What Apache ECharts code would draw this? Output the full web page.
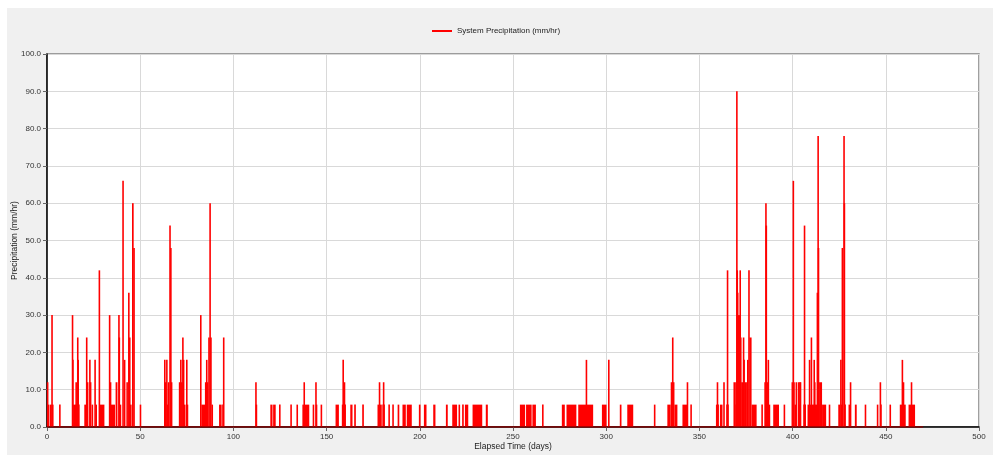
<!DOCTYPE html>
<html>
<head>
<meta charset="utf-8">
<script src="https://cdn.jsdelivr.net/npm/echarts@6/dist/echarts.min.js"></script>
<style>
  html, body { margin: 0; padding: 0; background: #ffffff; }
  #chart { position: absolute; left: 7px; top: 8px; width: 986px; height: 447px; background: #f0f0f0; }
</style>
</head>
<body>
<div id="chart"></div>
<script>
// Rainfall pulses: each one starts at rainStart (days), ends at rainEnd (days), intensity rainValue (mm/hr)
const rainStart = [
  0.1, 0.6, 1.6, 2.6, 6.5,
  13.6, 13.8, 14.0, 15.6, 16.4, 16.7, 16.8,
  20.0, 21.2, 21.7, 22.9, 23.3, 24.2, 25.7, 26.0, 28.0, 28.4,
  33.5, 34.0, 34.2, 36.8, 38.5, 38.7, 39.0, 40.7, 41.3, 42.9, 43.8, 44.3, 44.5, 45.6, 46.6, 50.0,
  63.1, 63.3, 64.2, 64.4, 65.0, 65.8, 66.2, 66.7,
  70.8, 71.5, 72.2, 72.8, 73.0, 73.6, 74.9, 75.1,
  82.4, 82.8, 85.0, 85.6, 86.0, 86.5, 87.4, 87.6, 88.3,
  92.3, 94.2, 94.7,
  112.0, 112.2, 119.8, 121.3, 124.7, 130.8, 134.1, 137.0, 137.9,
  142.8, 144.2, 144.4, 147.0, 154.8, 158.4, 158.8, 159.3,
  162.7, 164.8, 169.1, 177.3, 178.3, 180.2, 180.5,
  183.3, 185.4, 188.1, 190.7, 193.0, 199.5, 202.2,
  207.2, 214.0, 217.4, 220.8, 222.7, 224.2, 228.3, 235.4,
  253.7, 257.0, 260.4, 265.6,
  276.2, 278.7, 285.0, 289.3, 297.7, 301.3, 307.3, 311.3,
  325.8, 332.8, 334.6, 335.6, 340.9, 343.5, 345.2,
  359.0, 359.6, 361.0, 363.1, 364.6, 365.0, 368.6, 368.8,
  369.5, 370.0, 370.2, 370.4, 370.7, 371.8, 372.0, 372.4, 373.6, 373.8, 374.2, 375.6, 376.5, 376.8, 378.0,
  383.4, 385.0, 385.6, 385.8, 386.0, 386.9, 387.1, 389.6, 395.3,
  399.5, 400.3, 400.5, 401.0, 401.9, 403.1, 403.4, 403.8, 406.0, 406.3,
  408.0, 409.0, 410.0, 411.5, 411.8, 413.2, 413.6, 413.8, 414.2, 419.6,
  424.5, 425.8, 426.0, 426.6, 427.5, 427.7, 428.0,
  430.0, 431.0, 433.4, 438.9, 445.3, 447.0, 447.2, 452.1,
  457.5, 458.8, 459.4, 462.2, 463.7
];
const rainEnd = [
  0.6, 1.2, 3.4, 2.8, 7.3,
  13.8, 14.0, 15.8, 15.7, 16.6, 16.8, 17.4,
  21.0, 21.4, 21.9, 23.1, 23.5, 24.5, 25.9, 26.8, 28.2, 30.8,
  33.7, 34.2, 36.5, 37.8, 38.7, 38.9, 39.8, 40.9, 42.0, 43.1, 44.0, 44.5, 45.4, 46.5, 46.8, 50.3,
  63.3, 64.0, 64.4, 65.5, 65.5, 66.2, 66.7, 67.0,
  71.5, 72.1, 72.5, 73.0, 73.6, 74.2, 75.1, 75.6,
  82.6, 85.0, 85.3, 85.8, 86.3, 87.3, 87.6, 88.3, 89.0,
  93.7, 94.6, 94.9,
  112.2, 112.5, 121.0, 122.7, 125.1, 131.1, 134.4, 140.7, 138.1,
  143.1, 144.4, 144.8, 147.4, 156.6, 160.0, 159.0, 159.9,
  163.9, 165.7, 170.0, 179.6, 178.5, 181.0, 180.7,
  183.8, 185.9, 189.0, 192.5, 195.7, 200.4, 203.6,
  208.4, 215.0, 220.0, 221.6, 223.6, 226.0, 233.5, 236.5,
  256.5, 260.0, 262.3, 266.4,
  277.8, 284.0, 293.0, 289.5, 300.2, 301.5, 308.2, 314.5,
  326.2, 338.2, 336.6, 335.8, 343.4, 343.7, 345.9,
  360.3, 359.8, 362.4, 363.3, 365.5, 365.2, 368.8, 369.2,
  369.7, 370.2, 370.4, 370.7, 371.8, 372.0, 372.4, 373.5, 373.8, 374.2, 375.5, 376.3, 376.7, 378.0, 380.7,
  383.9, 385.5, 385.8, 386.0, 386.8, 387.1, 388.0, 392.7, 395.9,
  400.2, 400.5, 401.0, 401.8, 402.1, 403.3, 404.0, 404.5, 407.0, 406.5,
  418.0, 409.2, 410.2, 411.7, 412.0, 413.4, 413.8, 414.0, 415.8, 420.0,
  425.5, 426.0, 426.5, 426.8, 427.7, 427.9, 428.3,
  431.0, 431.2, 434.4, 439.3, 445.9, 447.2, 447.6, 452.7,
  460.7, 459.0, 459.6, 465.7, 463.9
];
const rainValue = [
  12, 6, 6, 30, 6,
  30, 18, 6, 12, 24, 18, 6,
  6, 24, 12, 18, 12, 6, 18, 6, 42, 6,
  30, 12, 6, 12, 30, 24, 6, 66, 18, 12, 36, 24, 6, 60, 48, 6,
  18, 12, 18, 6, 12, 54, 48, 12,
  12, 18, 12, 24, 18, 6, 18, 6,
  30, 6, 12, 18, 12, 24, 60, 24, 6,
  6, 6, 24,
  12, 6, 6, 6, 6, 6, 6, 6, 12,
  6, 12, 6, 6, 6, 6, 18, 12,
  6, 6, 6, 6, 12, 6, 12,
  6, 6, 6, 6, 6, 6, 6,
  6, 6, 6, 6, 6, 6, 6, 6,
  6, 6, 6, 6,
  6, 6, 6, 18, 6, 18, 6, 6,
  6, 6, 12, 24, 6, 12, 6,
  6, 12, 6, 12, 6, 42, 12, 6,
  12, 90, 42, 36, 30, 42, 24, 12, 24, 18, 12, 18, 42, 24, 6,
  6, 12, 60, 54, 12, 18, 6, 6, 6,
  12, 66, 12, 6, 12, 12, 6, 12, 6, 54,
  6, 18, 24, 18, 12, 36, 78, 48, 12, 6,
  6, 18, 6, 48, 78, 60, 6,
  6, 12, 6, 6, 6, 12, 6, 6,
  6, 18, 12, 6, 12
];
const recordEnd = 470;   // last day of the rainfall record
const xTicks = [0, 50, 100, 150, 200, 250, 300, 350, 400, 450, 500];
const yTicks = [0, 10, 20, 30, 40, 50, 60, 70, 80, 90, 100];

// Merge overlapping pulses into intervals [from, to, intensity]; the highest intensity wins
function buildIntervals() {
  const marks = new Set([0, recordEnd]);
  rainStart.forEach(function (s, i) { marks.add(s); marks.add(rainEnd[i]); });
  const b = Array.from(marks).sort(function (a, c) { return a - c; });
  const out = [];
  for (let k = 0; k < b.length - 1; k++) {
    const a = b[k], c = b[k + 1], mid = (a + c) / 2;
    let v = 0;
    for (let i = 0; i < rainStart.length; i++) {
      if (rainStart[i] <= mid && rainEnd[i] >= mid && rainValue[i] > v) v = rainValue[i];
    }
    if (v > 0) out.push([a, c, v]);
  }
  return out;
}

const FONT = 'Liberation Sans, Arial, sans-serif';
const RED = '#ff0000';
const chart = echarts.init(document.getElementById('chart'), null, { renderer: 'canvas' });
chart.setOption({
  backgroundColor: '#f0f0f0',
  animation: false,
  legend: {
    left: 420, top: 14,
    itemWidth: 20, itemHeight: 2, itemGap: 5,
    icon: 'rect',
    textStyle: { fontFamily: FONT, fontSize: 8, color: '#222' },
    data: ['System Precipitation (mm/hr)']
  },
  grid: {
    left: 40, right: 14, top: 46, bottom: 28,
    outerBoundsMode: 'none',
    containLabel: false,
    show: true, backgroundColor: '#ffffff',
    borderColor: '#808080', borderWidth: 1.5
  },
  xAxis: {
    type: 'value', min: xTicks[0], max: xTicks[xTicks.length - 1], interval: 50,
    name: 'Elapsed Time (days)', nameLocation: 'middle', nameGap: 15,
    nameMoveOverlap: false,
    nameTextStyle: { fontFamily: FONT, fontSize: 8.5, color: '#222' },
    axisLine: { show: true, onZero: false, lineStyle: { color: '#000', width: 1.5 } },
    axisTick: { show: true, length: 4, lineStyle: { color: '#666' } },
    axisLabel: { fontFamily: FONT, fontSize: 8, color: '#333', margin: 6 },
    splitLine: { show: true, lineStyle: { color: '#d9d9d9', width: 1 } }
  },
  yAxis: {
    type: 'value', min: yTicks[0], max: yTicks[yTicks.length - 1], interval: 10,
    name: 'Precipitation (mm/hr)', nameLocation: 'middle', nameGap: 28, nameRotate: 90,
    nameMoveOverlap: false,
    nameTextStyle: { fontFamily: FONT, fontSize: 8.5, color: '#222' },
    axisLine: { show: true, lineStyle: { color: '#000', width: 1.5 } },
    axisTick: { show: true, length: 4, lineStyle: { color: '#666' } },
    axisLabel: { fontFamily: FONT, fontSize: 8, color: '#333', margin: 6,
      formatter: function (v) { return v.toFixed(1); } },
    splitLine: { show: true, lineStyle: { color: '#d9d9d9', width: 1 } }
  },
  series: [
    {
      // baseline of the record (zero intensity between storms)
      name: 'baseline',
      type: 'line',
      data: [[0, 0], [recordEnd, 0]],
      symbol: 'none',
      lineStyle: { color: '#8b0000', width: 1.5 },
      silent: true,
      z: 3
    },
    {
      name: 'System Precipitation (mm/hr)',
      type: 'custom',
      itemStyle: { color: RED },
      encode: { x: [0, 1], y: 2 },
      data: buildIntervals(),
      renderItem: function (params, api) {
        const p0 = api.coord([api.value(0), api.value(2)]);
        const p1 = api.coord([api.value(1), 0]);
        let w = p1[0] - p0[0];
        let x = p0[0];
        if (w < 1.6) { x = x + w / 2 - 0.8; w = 1.6; }
        return {
          type: 'rect',
          shape: { x: x, y: p0[1], width: w, height: p1[1] - p0[1] },
          style: { fill: RED }
        };
      },
      z: 2
    }
  ]
});
</script>
</body>
</html>
